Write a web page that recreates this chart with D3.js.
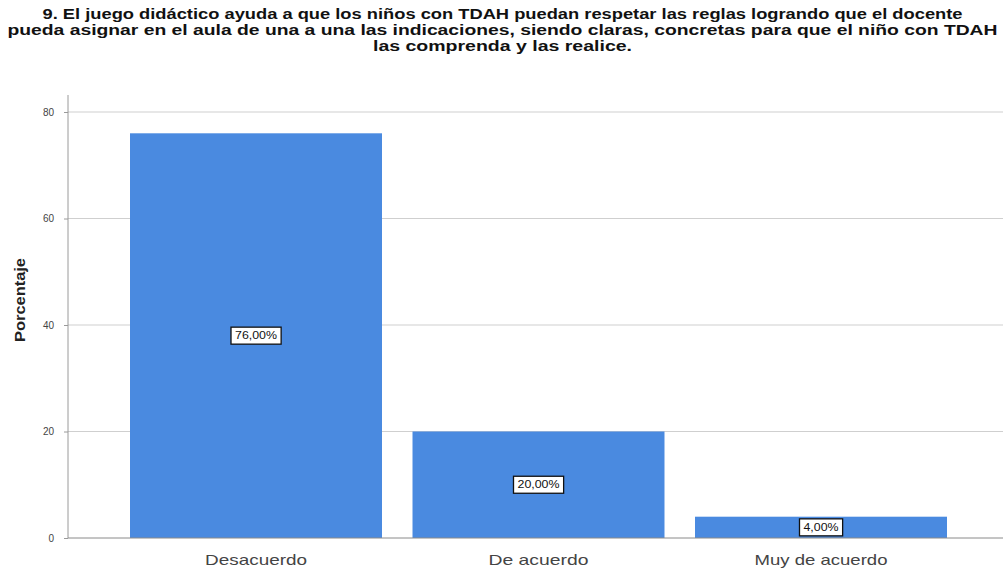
<!DOCTYPE html>
<html>
<head>
<meta charset="utf-8">
<script src="https://d3js.org/d3.v7.min.js"></script>
<style>
  body { margin: 0; background: #fff; }
  svg { display: block; font-family: 'Liberation Sans', Arial, sans-serif; }
</style>
</head>
<body>
<div id="chart"></div>
<script>
// --- data ---
const categories = ["Desacuerdo", "De acuerdo", "Muy de acuerdo"];
const percentages = [76, 20, 4];
const valueLabels = ["76,00%", "20,00%", "4,00%"];
const yTicks = [0, 20, 40, 60, 80];
const titleLines = [
  "9. El juego didáctico ayuda a que los niños con TDAH puedan respetar las reglas logrando que el docente",
  "pueda asignar en el aula de una a una las indicaciones, siendo claras, concretas para que el niño con TDAH",
  "las comprenda y las realice."
];

const W = 1005, H = 569;
const plot = { left: 68, right: 1003, top: 95, bottom: 538 };

const svg = d3.select("#chart").append("svg").attr("width", W).attr("height", H);

// title
const titleWidths = [920, 990, 259];
svg.append("g").selectAll("text")
  .data(titleLines)
  .join("text")
  .attr("x", W / 2)
  .attr("y", (d, i) => 19 + i * 16)
  .attr("text-anchor", "middle")
  .attr("font-size", 14)
  .attr("font-weight", "bold")
  .attr("fill", "#111")
  .attr("textLength", (d, i) => titleWidths[i])
  .attr("lengthAdjust", "spacingAndGlyphs")
  .text(d => d);

// scales
const y = d3.scaleLinear().domain([0, 80]).range([plot.bottom, 112]);
const x = d3.scaleBand()
  .domain(categories)
  .range([114.75, 962.25])
  .paddingInner(0.108)
  .paddingOuter(0.054);

// gridlines
svg.append("g").selectAll("line")
  .data(yTicks.filter(t => t > 0))
  .join("line")
  .attr("x1", plot.left).attr("x2", plot.right)
  .attr("y1", d => y(d)).attr("y2", d => y(d))
  .attr("stroke", "#cfcfcf").attr("stroke-width", 1);

// y axis
const yAxis = svg.append("g")
  .attr("transform", `translate(${plot.left},0)`)
  .call(d3.axisLeft(y).tickValues(yTicks).tickSize(4).tickPadding(10));
yAxis.select(".domain").attr("stroke", "#9a9a9a").attr("d", `M-0,${plot.top}V${plot.bottom}`);
yAxis.selectAll(".tick line").attr("stroke", "#9a9a9a");
yAxis.selectAll(".tick text").attr("font-size", 10).attr("fill", "#444")
  .attr("font-family", "'Liberation Sans', Arial, sans-serif");

// bars
svg.append("g").selectAll("rect")
  .data(categories)
  .join("rect")
  .attr("x", d => x(d))
  .attr("width", x.bandwidth())
  .attr("y", (d, i) => y(percentages[i]))
  .attr("height", (d, i) => y(0) - y(percentages[i]))
  .attr("fill", "#4a8ae0");

// x axis
const xLabelWidths = [102, 100, 133];
const xAxis = svg.append("g")
  .attr("transform", `translate(0,${plot.bottom})`)
  .call(d3.axisBottom(x).tickSize(0).tickPadding(16));
xAxis.select(".domain").attr("stroke", "#8a8a8a").attr("d", `M${plot.left},0H${plot.right}`);
xAxis.selectAll(".tick text").attr("font-size", 15).attr("fill", "#444")
  .attr("font-family", "'Liberation Sans', Arial, sans-serif")
  .attr("textLength", (d, i) => xLabelWidths[i])
  .attr("lengthAdjust", "spacingAndGlyphs");

// value labels
const lab = svg.append("g").selectAll("g")
  .data(categories)
  .join("g")
  .attr("transform", (d, i) => `translate(${x(d) + x.bandwidth() / 2},${y(percentages[i] / 2)})`);
lab.append("text")
  .attr("text-anchor", "middle")
  .attr("dy", "0.35em")
  .attr("font-size", 10)
  .attr("fill", "#111")
  .attr("textLength", (d, i) => valueLabels[i].length * 7)
  .attr("lengthAdjust", "spacingAndGlyphs")
  .text((d, i) => valueLabels[i]);
lab.each(function () {
  const g = d3.select(this);
  const bb = g.select("text").node().getBBox();
  g.insert("rect", "text")
    .attr("x", bb.x - 4).attr("y", bb.y - 3)
    .attr("width", bb.width + 8).attr("height", bb.height + 6)
    .attr("fill", "#fff").attr("stroke", "#111").attr("stroke-width", 1.3);
});

// y axis title
svg.append("text")
  .attr("transform", `translate(25,300) rotate(-90)`)
  .attr("text-anchor", "middle")
  .attr("font-size", 15)
  .attr("font-weight", "bold")
  .attr("fill", "#222")
  .attr("textLength", 84)
  .attr("lengthAdjust", "spacingAndGlyphs")
  .text("Porcentaje");
</script>
</body>
</html>
